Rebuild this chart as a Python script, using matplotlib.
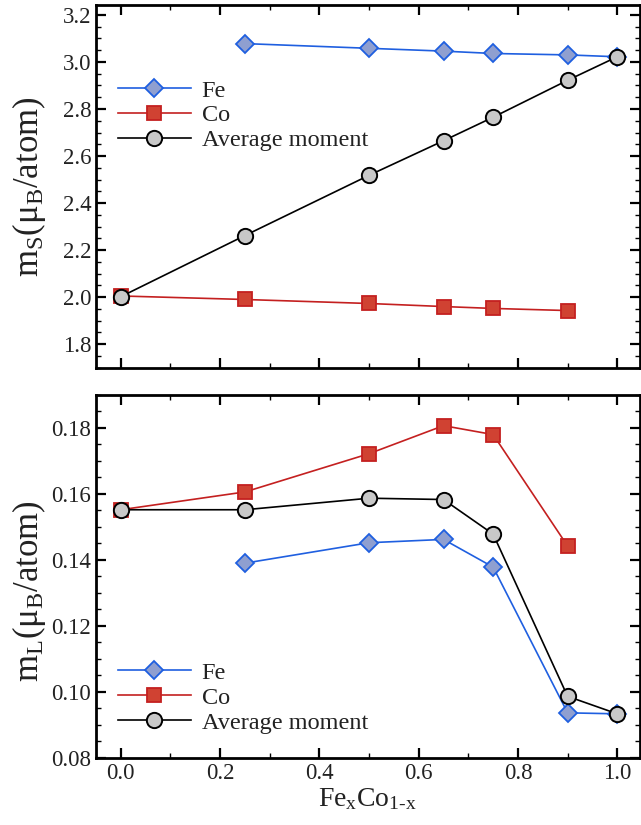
import numpy as np
import matplotlib
matplotlib.use("Agg")
import matplotlib.pyplot as plt
from matplotlib.ticker import MultipleLocator

plt.rcParams['font.family'] = ['Liberation Serif', 'DejaVu Serif']
plt.rcParams['mathtext.fontset'] = 'custom'
plt.rcParams['mathtext.rm'] = 'Liberation Serif'
plt.rcParams['mathtext.it'] = 'Liberation Serif:italic'

# composition x in Fe_x Co_(1-x)
x_fe = [0.25, 0.5, 0.65, 0.75, 0.9, 1.0]
x_co = [0.0, 0.25, 0.5, 0.65, 0.75, 0.9]
x_avg = [0.0, 0.25, 0.5, 0.65, 0.75, 0.9, 1.0]

# spin moments
ms_fe = [3.078, 3.058, 3.046, 3.036, 3.030, 3.022]
ms_co = [2.005, 1.990, 1.973, 1.960, 1.952, 1.943]
ms_avg = [2.002, 2.262, 2.518, 2.665, 2.765, 2.922, 3.022]

# orbital moments
ml_fe = [0.1390, 0.1452, 0.1462, 0.1378, 0.0936, 0.0933]
ml_co = [0.1552, 0.1606, 0.1722, 0.1807, 0.1780, 0.1442]
ml_avg = [0.1552, 0.1552, 0.1587, 0.1583, 0.1478, 0.0986, 0.0933]

fe_style = dict(color='#1f5fe0', marker='D', markersize=9.5, markerfacecolor='#8f9fd0',
                markeredgecolor='#1f5fe0', markeredgewidth=1.3, lw=1.2)
co_style = dict(color='#c42020', marker='s', markersize=10, markerfacecolor='#d04232',
                markeredgecolor='#c42020', markeredgewidth=1.3, lw=1.2)
avg_style = dict(color='black', marker='o', markersize=11, markerfacecolor='#c8c8c8',
                 markeredgecolor='black', markeredgewidth=1.4, lw=1.2)

TXT = '#222222'


def style_axes(ax, ymaj, ymin):
    for s in ax.spines.values():
        s.set_linewidth(2.0)
    ax.xaxis.set_major_locator(MultipleLocator(0.2))
    ax.xaxis.set_minor_locator(MultipleLocator(0.1))
    ax.yaxis.set_major_locator(MultipleLocator(ymaj))
    ax.yaxis.set_minor_locator(MultipleLocator(ymin))
    ax.tick_params(which='both', direction='in', top=True, right=True,
                   labelsize=16.5, labelcolor=TXT, width=1.6)
    ax.tick_params(which='major', length=7)
    ax.tick_params(which='minor', length=3.5, width=1.0)
    ax.set_xlim(-0.05, 1.045)


fig = plt.figure(figsize=(6.41, 8.25), dpi=100)
ax1 = fig.add_axes([0.1498, 0.5543, 0.848, 0.4396])
ax2 = fig.add_axes([0.1498, 0.0816, 0.848, 0.4396])

# top panel: spin moment
ax1.plot(x_co, ms_co, label='Co', **co_style)
ax1.plot(x_fe, ms_fe, label='Fe', **fe_style)
ax1.plot(x_avg, ms_avg, label='Average moment', **avg_style)
style_axes(ax1, 0.2, 0.05)
ax1.set_ylim(1.7, 3.242)
ax1.set_xticklabels([])
ax1.set_ylabel(r'm$_\mathrm{S}$($\mathrm{\mu}_\mathrm{B}$/atom)', fontsize=25, color=TXT)

# bottom panel: orbital moment
ax2.plot(x_co, ml_co, label='Co', **co_style)
ax2.plot(x_fe, ml_fe, label='Fe', **fe_style)
ax2.plot(x_avg, ml_avg, label='Average moment', **avg_style)
style_axes(ax2, 0.02, 0.005)
ax2.set_ylim(0.08, 0.190)
ax2.set_ylabel(r'm$_\mathrm{L}$($\mathrm{\mu}_\mathrm{B}$/atom)', fontsize=25, color=TXT)
ax1.yaxis.set_label_coords(-0.088, 0.5)
ax2.yaxis.set_label_coords(-0.088, 0.46)
ax2.set_xlabel(r'Fe$_\mathrm{x}$Co$_\mathrm{1\text{-}x}$', fontsize=20, color=TXT, labelpad=2)

for ax, loc in [(ax1, (0.0, 0.855)), (ax2, (0.0, 0.325))]:
    h, l = ax.get_legend_handles_labels()
    order = [1, 0, 2]
    ax.legend([h[i] for i in order], [l[i] for i in order], loc='upper left',
              bbox_to_anchor=loc, frameon=False, fontsize=17.5, handlelength=3.0,
              labelspacing=0.12, handletextpad=0.45, labelcolor=TXT)

fig.savefig('out.png', dpi=100)
